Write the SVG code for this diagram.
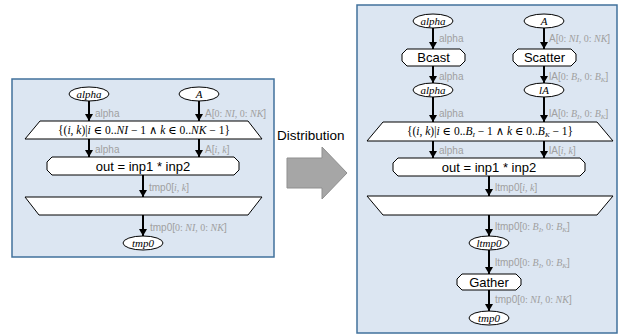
<svg xmlns="http://www.w3.org/2000/svg" width="621" height="335" viewBox="0 0 621 335">
<defs>
<marker id="ah" markerUnits="userSpaceOnUse" markerWidth="7" markerHeight="8" refX="7" refY="4" orient="auto">
<path d="M0,0 L7,4 L0,8 z" fill="#000"/>
</marker>
<style>
.panel{fill:#dce6f2;stroke:#41719c;stroke-width:1.5}
.node{fill:#fff;stroke:#000;stroke-width:1}
.edge{stroke:#000;stroke-width:2;fill:none;marker-end:url(#ah)}
.lbl{font-family:"Liberation Sans",Arial,sans-serif;font-size:10px;fill:#a0a0a0}
.m{font-family:"Liberation Serif","DejaVu Serif",serif}
.i{font-family:"Liberation Serif","DejaVu Serif",serif;font-style:italic}
.et{font-family:"Liberation Serif","DejaVu Serif",serif;font-style:italic;font-size:11px;fill:#000;text-anchor:middle}
.tt{font-family:"Liberation Sans",Arial,sans-serif;font-size:13px;fill:#000;text-anchor:middle}
.mt{font-family:"Liberation Serif","DejaVu Serif",serif;font-size:11.5px;fill:#000;text-anchor:middle}
.dist{font-family:"Liberation Sans",Arial,sans-serif;font-size:13.5px;fill:#000}
.sub{font-size:7px}
</style>
</defs>
<rect class="panel" x="12" y="79" width="262" height="178"/>
<rect class="panel" x="357" y="5" width="260" height="328"/>
<g id="distribution">
<text class="dist" x="277" y="140">Distribution</text>
<path d="M287,158 L322,158 L322,147 L347,173 L322,199 L322,188 L287,188 z" fill="#a6a6a6" stroke="#8f8f8f" stroke-width="1"/>
</g>
<g id="connectors">
<line class="edge" x1="89" y1="101" x2="89" y2="121"/>
<line class="edge" x1="199" y1="101" x2="199" y2="121"/>
<line class="edge" x1="89" y1="139" x2="89" y2="157"/>
<line class="edge" x1="199" y1="139" x2="199" y2="157"/>
<line class="edge" x1="143" y1="175" x2="143" y2="197"/>
<line class="edge" x1="143" y1="215" x2="143" y2="236"/>
<line class="edge" x1="433" y1="28" x2="433" y2="49"/>
<line class="edge" x1="544" y1="28" x2="544" y2="49"/>
<line class="edge" x1="433" y1="66" x2="433" y2="83"/>
<line class="edge" x1="544" y1="66" x2="544" y2="83"/>
<line class="edge" x1="433" y1="97" x2="433" y2="122"/>
<line class="edge" x1="544" y1="97" x2="544" y2="122"/>
<line class="edge" x1="433" y1="141" x2="433" y2="158"/>
<line class="edge" x1="544" y1="141" x2="544" y2="158"/>
<line class="edge" x1="489" y1="176" x2="489" y2="196"/>
<line class="edge" x1="489" y1="215" x2="489" y2="236"/>
<line class="edge" x1="489" y1="250" x2="489" y2="274"/>
<line class="edge" x1="489" y1="290" x2="489" y2="311"/>
<text class="lbl" x="95" y="117">alpha</text>
<text class="lbl" x="205" y="117">A[<tspan class="m">0: </tspan><tspan class="i">NI</tspan><tspan class="m">, 0: </tspan><tspan class="i">NK</tspan>]</text>
<text class="lbl" x="95" y="153">alpha</text>
<text class="lbl" x="205" y="153">A[<tspan class="i">i</tspan><tspan class="m">, </tspan><tspan class="i">k</tspan>]</text>
<text class="lbl" x="149" y="191">tmp0[<tspan class="i">i</tspan><tspan class="m">, </tspan><tspan class="i">k</tspan>]</text>
<text class="lbl" x="150" y="231">tmp0[<tspan class="m">0: </tspan><tspan class="i">NI</tspan><tspan class="m">, 0: </tspan><tspan class="i">NK</tspan>]</text>
<text class="lbl" x="439" y="42">alpha</text>
<text class="lbl" x="549" y="42">A[<tspan class="m">0: </tspan><tspan class="i">NI</tspan><tspan class="m">, 0: </tspan><tspan class="i">NK</tspan>]</text>
<text class="lbl" x="439" y="80">alpha</text>
<text class="lbl" x="549" y="80">lA[<tspan class="m">0: </tspan><tspan class="i">B</tspan><tspan class="i sub" dy="2">I</tspan><tspan class="m" dy="-2">, 0: </tspan><tspan class="i">B</tspan><tspan class="i sub" dy="2">K</tspan><tspan dy="-2">]</tspan></text>
<text class="lbl" x="439" y="117">alpha</text>
<text class="lbl" x="549" y="117">lA[<tspan class="m">0: </tspan><tspan class="i">B</tspan><tspan class="i sub" dy="2">I</tspan><tspan class="m" dy="-2">, 0: </tspan><tspan class="i">B</tspan><tspan class="i sub" dy="2">K</tspan><tspan dy="-2">]</tspan></text>
<text class="lbl" x="439" y="154">alpha</text>
<text class="lbl" x="549" y="154">lA[<tspan class="i">i</tspan><tspan class="m">, </tspan><tspan class="i">k</tspan>]</text>
<text class="lbl" x="495" y="191">ltmp0[<tspan class="i">i</tspan><tspan class="m">, </tspan><tspan class="i">k</tspan>]</text>
<text class="lbl" x="495" y="230">ltmp0[<tspan class="m">0: </tspan><tspan class="i">B</tspan><tspan class="i sub" dy="2">I</tspan><tspan class="m" dy="-2">, 0: </tspan><tspan class="i">B</tspan><tspan class="i sub" dy="2">K</tspan><tspan dy="-2">]</tspan></text>
<text class="lbl" x="495" y="266">ltmp0[<tspan class="m">0: </tspan><tspan class="i">B</tspan><tspan class="i sub" dy="2">I</tspan><tspan class="m" dy="-2">, 0: </tspan><tspan class="i">B</tspan><tspan class="i sub" dy="2">K</tspan><tspan dy="-2">]</tspan></text>
<text class="lbl" x="495" y="303">tmp0[<tspan class="m">0: </tspan><tspan class="i">NI</tspan><tspan class="m">, 0: </tspan><tspan class="i">NK</tspan>]</text>
</g>
<g id="L_alpha"><ellipse class="node" cx="89" cy="94" rx="20" ry="7"/><text class="et" x="89" y="98">alpha</text></g>
<g id="L_A"><ellipse class="node" cx="199" cy="94" rx="20" ry="7"/><text class="et" x="199" y="98">A</text></g>
<g id="L_map_entry"><polygon class="node" points="40,121 248,121 262,139 25,139"/><text class="mt" x="144" y="134">{(<tspan class="i">i</tspan>, <tspan class="i">k</tspan>)|<tspan class="i">i</tspan> ∈ 0..<tspan class="i">NI</tspan> − 1 ∧ <tspan class="i">k</tspan> ∈ 0..<tspan class="i">NK</tspan> − 1}</text></g>
<g id="L_tasklet"><path class="node" d="M52,157 L234,157 L239,162 L239,170 L234,175 L52,175 L47,170 L47,162 z"/><text class="tt" x="143" y="171">out = inp1 * inp2</text></g>
<g id="L_map_exit"><polygon class="node" points="25,197 262,197 248,215 39,215"/></g>
<g id="L_tmp0"><ellipse class="node" cx="143" cy="243" rx="20" ry="7"/><text class="et" x="143" y="247">tmp0</text></g>
<g id="R_alpha"><ellipse class="node" cx="433" cy="21" rx="20" ry="7"/><text class="et" x="433" y="25">alpha</text></g>
<g id="R_A"><ellipse class="node" cx="544" cy="21" rx="20" ry="7"/><text class="et" x="544" y="25">A</text></g>
<g id="R_bcast"><path class="node" d="M407,49 L460,49 L465,54 L465,61 L460,66 L407,66 L402,61 L402,54 z"/><text class="tt" x="433.5" y="62">Bcast</text></g>
<g id="R_scatter"><path class="node" d="M518,49 L571,49 L576,54 L576,61 L571,66 L518,66 L513,61 L513,54 z"/><text class="tt" x="544.5" y="62">Scatter</text></g>
<g id="R_alpha2"><ellipse class="node" cx="433" cy="90" rx="20" ry="7"/><text class="et" x="433" y="94">alpha</text></g>
<g id="R_lA"><ellipse class="node" cx="544" cy="90" rx="20" ry="7"/><text class="et" x="544" y="94">lA</text></g>
<g id="R_map_entry"><polygon class="node" points="383,122 597,122 613,141 367,141"/><text class="mt" x="490" y="135">{(<tspan class="i">i</tspan>, <tspan class="i">k</tspan>)|<tspan class="i">i</tspan> ∈ 0..<tspan class="i">B</tspan><tspan class="i sub" dy="2">I</tspan><tspan dy="-2"> − 1 ∧ </tspan><tspan class="i">k</tspan> ∈ 0..<tspan class="i">B</tspan><tspan class="i sub" dy="2">K</tspan><tspan dy="-2"> − 1}</tspan></text></g>
<g id="R_tasklet"><path class="node" d="M398,158 L580,158 L585,163 L585,171 L580,176 L398,176 L393,171 L393,163 z"/><text class="tt" x="489" y="172">out = inp1 * inp2</text></g>
<g id="R_map_exit"><polygon class="node" points="367,196 613,196 597,215 383,215"/></g>
<g id="R_ltmp0"><ellipse class="node" cx="489" cy="243" rx="20" ry="7"/><text class="et" x="489" y="247">ltmp0</text></g>
<g id="R_gather"><path class="node" d="M462,274 L516,274 L521,279 L521,285 L516,290 L462,290 L457,285 L457,279 z"/><text class="tt" x="489" y="286.5">Gather</text></g>
<g id="R_tmp0"><ellipse class="node" cx="489" cy="318" rx="20" ry="7"/><text class="et" x="489" y="322">tmp0</text></g>
</svg>
